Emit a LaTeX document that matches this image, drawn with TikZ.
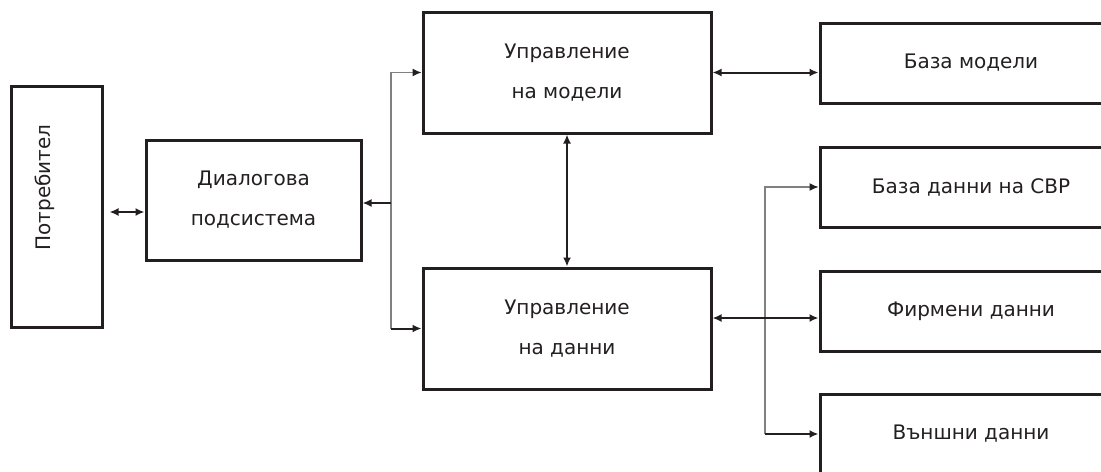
\documentclass[tikz,border=0pt]{standalone}
\usepackage{fontspec}
\setmainfont{DejaVu Sans}
\usetikzlibrary{arrows.meta,calc}

\definecolor{ink}{HTML}{231F20}

\begin{document}
\begin{tikzpicture}[x=0.5pt, y=-0.5pt, >={Latex[length=4.5pt,width=4pt]}]
        \tikzstyle{label}=[font=\fontsize{10pt}{20pt}\selectfont, text=ink, align=center, inner sep=0pt]
        \tikzstyle{block}=[label, rectangle, draw=ink, line width=1.5pt]
        \tikzstyle{mgmt}=[block, minimum width=144pt, minimum height=60.5pt]
        \tikzstyle{store}=[block, minimum width=151pt, minimum height=40pt]
        \tikzstyle{edge}=[ink, line width=1pt]
        \tikzstyle{bus}=[gray, line width=0.6pt, -{Latex[length=4.5pt,width=4pt,color=ink]}]

        \useasboundingbox (0,0) rectangle (1101,471);

        \node[block, minimum width=45.5pt, minimum height=120.5pt] (user) at (56.5,206.5) {};
        \node[label, rotate=90] (usertext) at ($(user)+(-12,-19)$) {Потребител};
        \node[block, minimum width=107.5pt, minimum height=60pt] (dialog) at (253.5,200) {Диалогова\\подсистема};

        \node[mgmt] (modelmgmt) at (567,72.5)  {Управление\\на модели};
        \node[mgmt] (datamgmt)  at (567,328.5) {Управление\\на данни};

        \node[store] (modelbase) at (971,63)    {База модели};
        \node[store] (svrbase)   at (971,187)   {База данни на СВР};
        \node[store] (firmbase)  at (971,311.5) {Фирмени данни};
        \node[store] (extbase)   at (971,434)   {Външни данни};

        \coordinate (busL) at (391,203);
        \coordinate (busR) at (765,318);

        % user and dialog
        \draw[edge, <->, shorten <=3pt] (user.east |- 0,212) -- (dialog.west |- 0,212);

        % left bus
        \draw[bus] (busL |- datamgmt.west) -- (busL |- modelmgmt.west) -- (modelmgmt.west);
        \draw[edge, ->] (busL |- datamgmt.west) -- (datamgmt.west);
        \draw[edge, ->] (busL) -- (dialog.east |- busL);

        \draw[edge, <->] (modelmgmt.south) -- (datamgmt.north);
        \draw[edge, <->] (modelmgmt.east) -- (modelbase.west |- modelmgmt.east);

        % right bus
        \draw[bus] (busR |- extbase.west) -- (busR |- svrbase.west) -- (svrbase.west);
        \draw[edge, ->] (busR |- extbase.west) -- (extbase.west);
        \draw[edge, <->] (datamgmt.east |- busR) -- (firmbase.west |- busR);
\end{tikzpicture}
\end{document}
